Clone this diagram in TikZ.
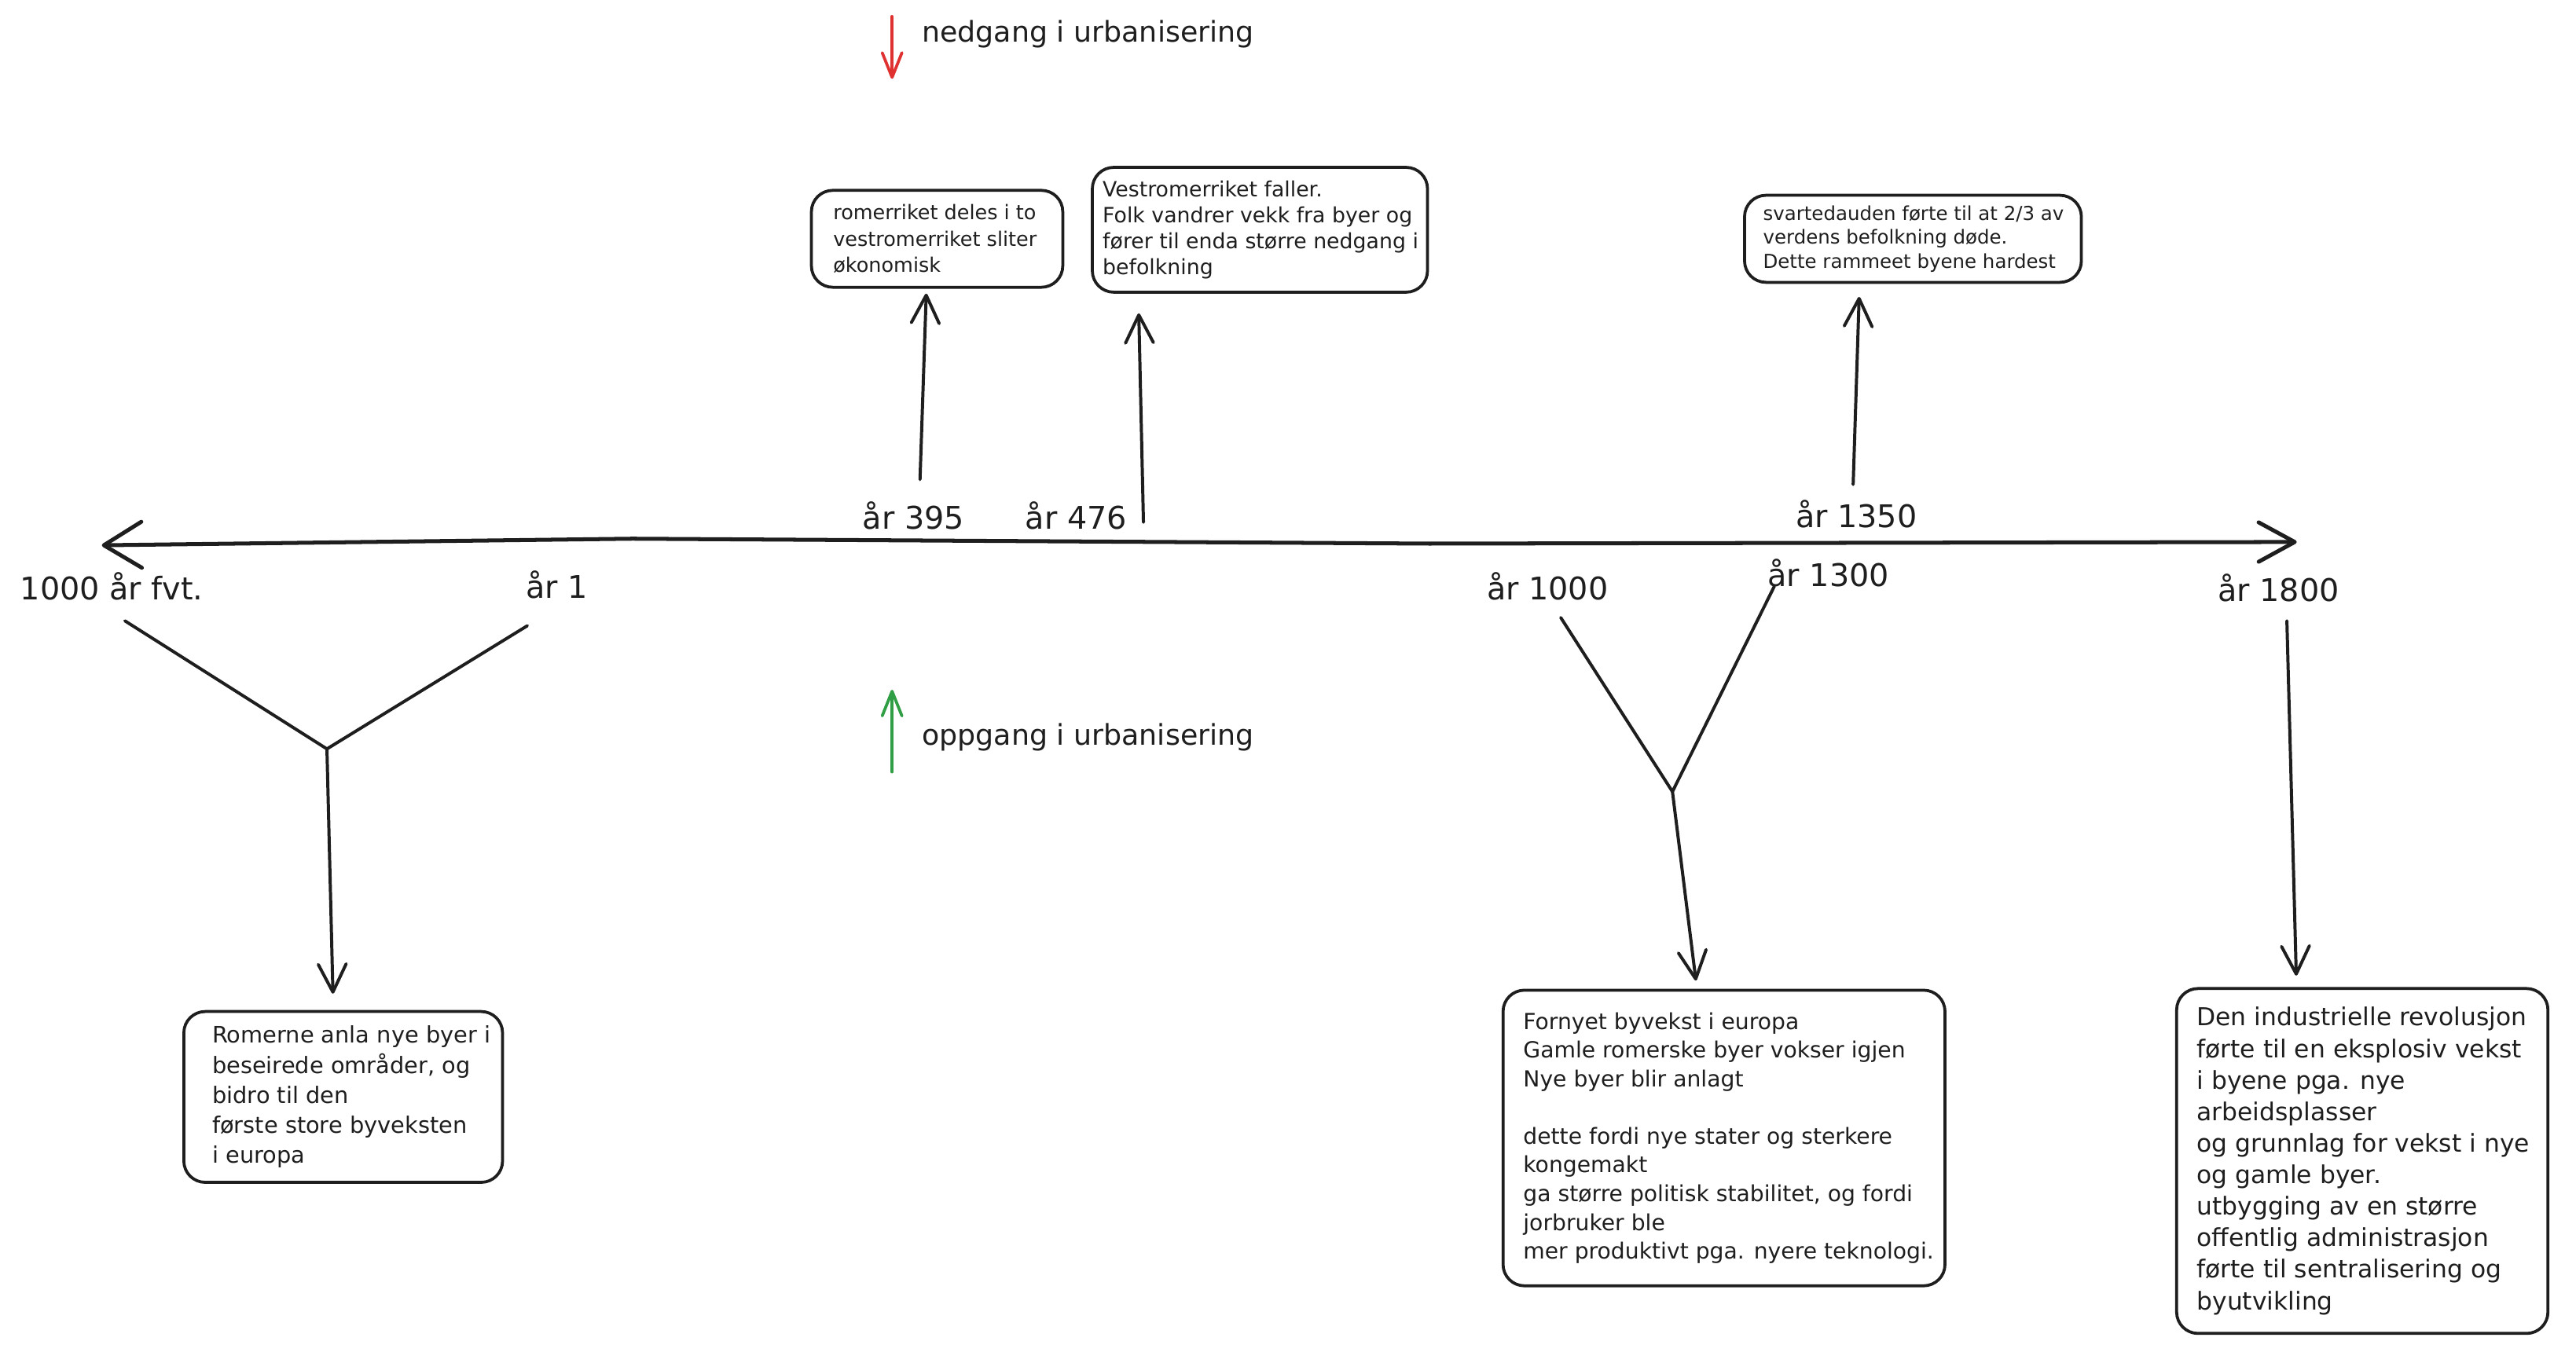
\documentclass[tikz,border=0pt]{standalone}
\usepackage{fontspec}
\setmainfont{DejaVu Sans}
\usetikzlibrary{arrows.meta}
\definecolor{ink}{HTML}{1E1E1E}
\definecolor{downred}{HTML}{E03131}
\definecolor{upgreen}{HTML}{2F9E44}

\begin{document}
\begin{tikzpicture}[x=1pt,y=-1pt,
  yearlabel/.style={font=\fontsize{19}{22}\selectfont, text=ink, inner sep=0pt},
  legendtext/.style={font=\fontsize{17.4}{20}\selectfont, text=ink, inner sep=0pt, anchor=west},
  card/.style={draw=ink, line width=1.8pt, rounded corners=13pt, fill=white, inner sep=0pt, anchor=north west},
  cardtext/.style={text=ink, inner sep=0pt, anchor=west, align=left},
  link/.style={draw=ink, line width=1.9pt, line cap=round, line join=round},
  linkarrow/.style={link, -{Straight Barb[length=17pt,width=17pt,line cap=round,line join=round]}},
  legendarrow/.style={line width=1.8pt, line cap=round, -{Straight Barb[length=15pt,width=12pt,line cap=round,line join=round]}},
  axisline/.style={draw=ink, line width=2.4pt, line cap=round, line join=round,
    {Straight Barb[length=23pt,width=28pt,line cap=round,line join=round]}-{Straight Barb[length=22pt,width=24pt,line cap=round,line join=round]}}
]
\useasboundingbox[fill=white] (0,0) rectangle (1568,823);

% legend
\coordinate (redtop) at (543,10);
\coordinate (redbot) at (543,48);
\draw[legendarrow, draw=downred] (redtop) -- (redbot);
\node[legendtext] (nedgang) at (561,21) {nedgang i urbanisering};
\coordinate (greenbot) at (543,470);
\coordinate (greentop) at (543,420);
\draw[legendarrow, draw=upgreen] (greenbot) -- (greentop);
\node[legendtext] (oppgang) at (561,449) {oppgang i urbanisering};

% time axis
\coordinate (axisleft) at (62,332);
\coordinate (axisbendA) at (385,328);
\coordinate (axisbendB) at (870,331);
\coordinate (axisright) at (1398,330);
\draw[axisline] (axisleft) -- (axisbendA) -- (axisbendB) -- (axisright);

% year labels
\node[yearlabel] (y1000bc) at (68,357) {1000 år fvt.};
\node[yearlabel] (y1) at (339,356) {år 1};
\node[yearlabel] (y395) at (556,314) {år 395};
\node[yearlabel] (y476) at (655,314) {år 476};
\node[yearlabel] (y1350) at (1130,313) {år 1350};
\node[yearlabel] (y1000) at (942,357) {år 1000};
\node[yearlabel] (y1300) at (1113,349) {år 1300};
\node[yearlabel] (y1800) at (1387,358) {år 1800};

% cards below the axis
\node[card, minimum width=194pt, minimum height=104pt] (romerne) at (111,615) {};
\node[cardtext, font=\fontsize{13.8}{18.3}\selectfont] (romerneT) at ([xshift=18pt]romerne.west)
  {Romerne anla nye byer i\\beseirede områder, og\\bidro til den\\første store byveksten\\i europa};

\node[card, minimum width=269pt, minimum height=180pt] (fornyet) at (914,602) {};
\node[cardtext, font=\fontsize{13.5}{17.5}\selectfont] (fornyetT) at ([xshift=13pt]fornyet.west)
  {Fornyet byvekst i europa\\Gamle romerske byer vokser igjen\\Nye byer blir anlagt\\[17.5pt]dette fordi nye stater og sterkere\\kongemakt\\ga større politisk stabilitet, og fordi\\jorbruker ble\\mer produktivt pga. nyere teknologi.};

\node[card, minimum width=226pt, minimum height=210pt] (industri) at (1324,601) {};
\node[cardtext, font=\fontsize{15}{19.2}\selectfont] (industriT) at ([xshift=13pt]industri.west)
  {Den industrielle revolusjon\\førte til en eksplosiv vekst\\i byene pga. nye\\arbeidsplasser\\og grunnlag for vekst i nye\\og gamle byer.\\utbygging av en større\\offentlig administrasjon\\førte til sentralisering og\\byutvikling};

% cards above the axis
\node[card, minimum width=153pt, minimum height=59pt] (deling) at (493,115) {};
\node[cardtext, font=\fontsize{12.2}{16}\selectfont] (delingT) at ([xshift=14pt]deling.west)
  {romerriket deles i to\\vestromerriket sliter\\økonomisk};

\node[card, minimum width=204pt, minimum height=76pt] (fall) at (664,101) {};
\node[cardtext, font=\fontsize{12.8}{15.7}\selectfont] (fallT) at ([xshift=7pt]fall.west)
  {Vestromerriket faller.\\Folk vandrer vekk fra byer og\\fører til enda større nedgang i\\befolkning};

\node[card, minimum width=205pt, minimum height=53pt] (pest) at (1061,118) {};
\node[cardtext, font=\fontsize{11.7}{14.5}\selectfont] (pestT) at ([xshift=12pt]pest.west)
  {svartedauden førte til at 2/3 av\\verdens befolkning døde.\\Dette rammeet byene hardest};

% forks joining two years into one card
\coordinate (forkAleft) at (76,378);
\coordinate (forkAright) at (321,381);
\coordinate (forkA) at (199,456);
\draw[link] (forkAleft) -- (forkA) -- (forkAright);
\draw[linkarrow, shorten >=10pt] (forkA) -- ([xshift=-6pt]romerne.north);

\coordinate (forkBleft) at (950,376);
\coordinate (forkBright) at (1080,357);
\coordinate (forkB) at (1018,482);
\draw[link] (forkBleft) -- (forkB) -- (forkBright);
\draw[linkarrow, shorten >=5pt] (forkB) -- ([xshift=-16.5pt]fornyet.north);

% single connectors
\coordinate (from1800) at (1392,378);
\draw[linkarrow, shorten >=7pt] (from1800) -- ([xshift=-40pt]industri.north);

\coordinate (from395) at (560,292);
\draw[linkarrow, shorten >=3pt] (from395) -- ([xshift=-6.5pt]deling.south);

\coordinate (from476) at (696,318);
\draw[linkarrow, shorten >=12pt] (from476) -- ([xshift=-74pt]fall.south);

\coordinate (from1350) at (1128,295);
\draw[linkarrow, shorten >=8pt] (from1350) -- ([xshift=-32.5pt]pest.south);
\end{tikzpicture}
\end{document}
